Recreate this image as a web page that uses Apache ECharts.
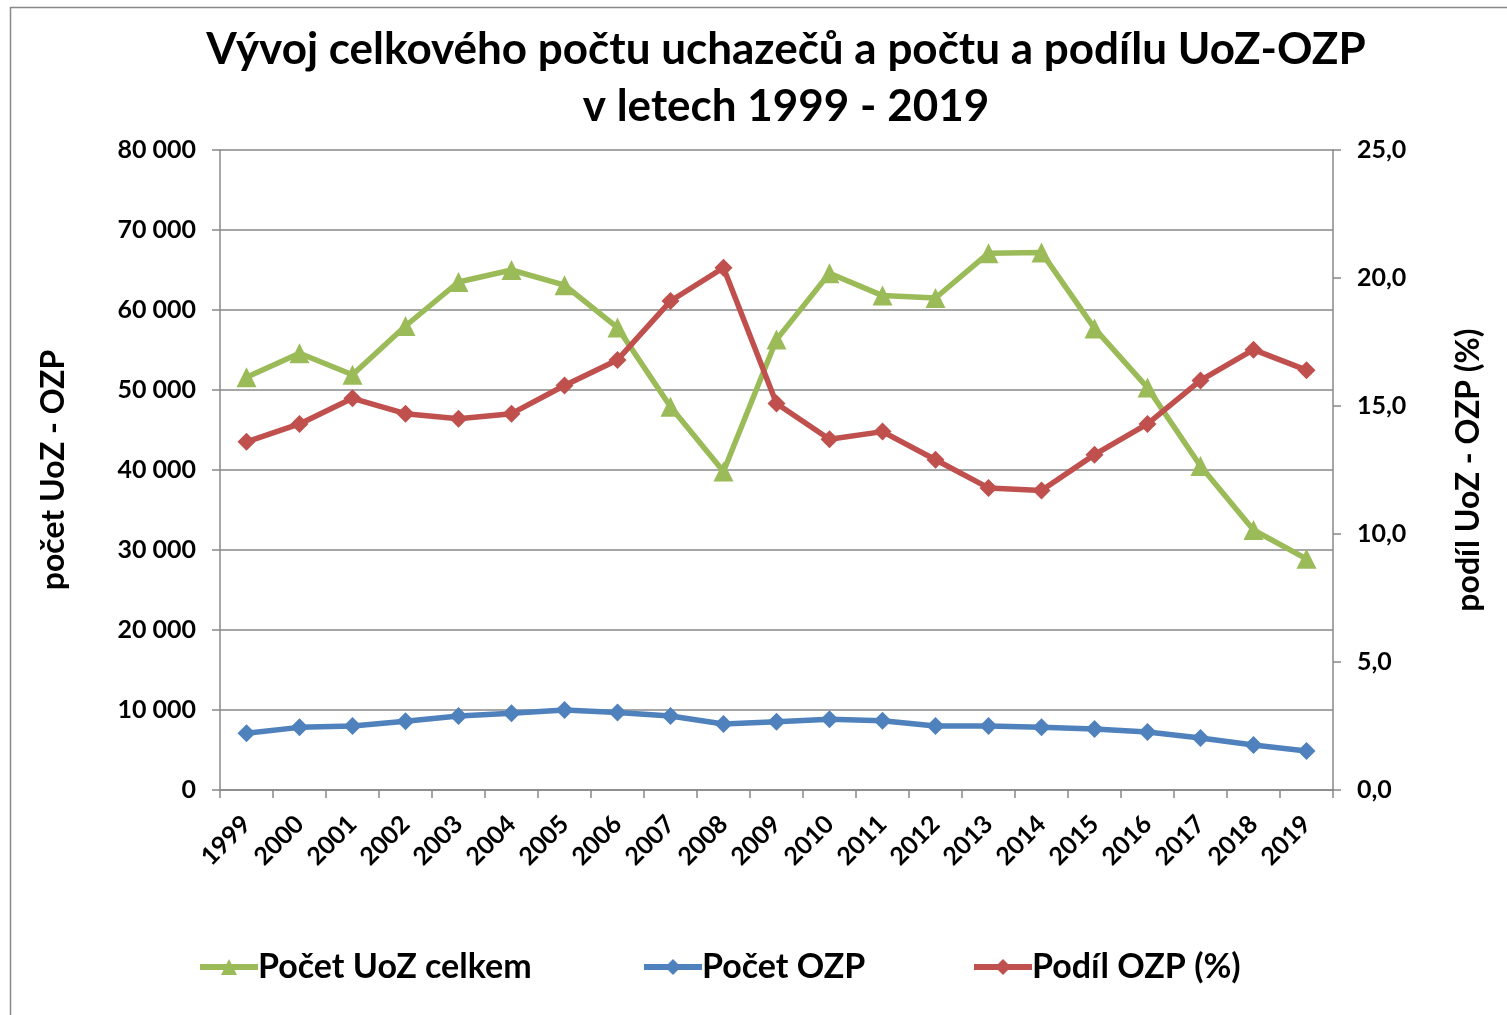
<!DOCTYPE html>
<html>
<head>
<meta charset="utf-8">
<script src="https://cdn.jsdelivr.net/npm/echarts@6/dist/echarts.min.js"></script>
<style>
  html, body { margin: 0; padding: 0; background: #fff; }
  #chart { width: 1507px; height: 1015px; }
</style>
</head>
<body>
<div id="chart"></div>
<script>
// data
var years = ['1999', '2000', '2001', '2002', '2003', '2004', '2005', '2006', '2007', '2008', '2009',
	'2010', '2011', '2012', '2013', '2014', '2015', '2016', '2017', '2018', '2019'];
var pocetUozCelkem = [51600, 54600, 51900, 58000, 63500, 65000, 63100, 57800, 47900, 39800, 56300,
	64600, 61800, 61500, 67100, 67200, 57700, 50300, 40500, 32500, 28900];
var pocetOzp = [7100, 7830, 8000, 8600, 9250, 9580, 10000, 9700, 9250, 8250, 8540,
	8830, 8670, 8000, 8000, 7830, 7630, 7250, 6500, 5630, 4880];
var podilOzp = [13.6, 14.3, 15.3, 14.7, 14.5, 14.7, 15.8, 16.8, 19.1, 20.4, 15.1,
	13.7, 14.0, 12.9, 11.8, 11.7, 13.1, 14.3, 16.0, 17.2, 16.4];
var seriesNames = ['Počet UoZ celkem', 'Počet OZP', 'Podíl OZP (%)'];

var FONT = 'Lato, "Open Sans", sans-serif';
var GREEN = '#9BBB59', BLUE = '#4F81BD', RED = '#C0504D';

var chart = echarts.init(document.getElementById('chart'));

function thousands(v) {
	return String(v).replace(/\B(?=(\d{3})+(?!\d))/g, ' ');
}

// one legend per item, so each can sit where the original has it
function legendAt(name, left) {
	return {
		left: left,
		top: 945,
		itemWidth: 58,
		itemHeight: 20,
		lineStyle: { width: 6 },
		textStyle: { fontFamily: FONT, fontSize: 34, fontWeight: 'bold', color: '#000', padding: [0, 0, 0, -5] },
		data: [name]
	};
}

chart.setOption({
	animation: false,
	textStyle: { fontFamily: FONT },
	title: {
		text: 'Vývoj celkového počtu uchazečů a počtu a podílu UoZ-OZP\nv letech 1999 - 2019',
		left: 781,
		textAlign: 'center',
		top: 16,
		textStyle: {
			fontFamily: FONT,
			fontSize: 44,
			fontWeight: 'bold',
			color: '#000',
			lineHeight: 57
		}
	},
	graphic: [{
		type: 'rect',
		shape: { x: 10.5, y: 7.5, width: 1510, height: 1020 },
		style: { fill: 'none', stroke: '#888', lineWidth: 1.5 },
		silent: true
	}],
	legend: [
		legendAt(seriesNames[0], 192),
		legendAt(seriesNames[1], 636),
		legendAt(seriesNames[2], 966)
	],
	grid: {
		left: 220,
		right: 174,
		top: 150,
		bottom: 225
	},
	xAxis: {
		type: 'category',
		data: years,
		boundaryGap: true,
		axisLine: { lineStyle: { color: '#888', width: 1.5 } },
		axisTick: { show: true, inside: false, length: 8, interval: 0, lineStyle: { color: '#888', width: 1.5 } },
		axisLabel: {
			rotate: 45,
			interval: 0,
			margin: 30,
			fontFamily: FONT,
			fontSize: 25,
			fontWeight: 'bold',
			color: '#000'
		}
	},
	yAxis: [{
		type: 'value',
		min: 0,
		max: 80000,
		interval: 10000,
		name: 'počet UoZ - OZP',
		nameLocation: 'middle',
		nameRotate: 90,
		nameGap: 150,
		nameTextStyle: { fontFamily: FONT, fontSize: 32, fontWeight: 'bold', color: '#000' },
		axisLine: { show: true, lineStyle: { color: '#888', width: 1.5 } },
		axisTick: { show: true, length: 8, lineStyle: { color: '#888', width: 1.5 } },
		splitLine: { show: true, lineStyle: { color: '#888', width: 1.5 } },
		axisLabel: {
			margin: 24,
			fontFamily: FONT,
			fontSize: 25,
			fontWeight: 'bold',
			color: '#000',
			formatter: thousands
		}
	}, {
		type: 'value',
		min: 0,
		max: 25,
		interval: 5,
		position: 'right',
		name: 'podíl UoZ - OZP (%)',
		nameLocation: 'middle',
		nameRotate: 90,
		nameGap: 120,
		nameTextStyle: { fontFamily: FONT, fontSize: 32, fontWeight: 'bold', color: '#000' },
		axisLine: { show: true, lineStyle: { color: '#888', width: 1.5 } },
		axisTick: { show: true, length: 8, lineStyle: { color: '#888', width: 1.5 } },
		splitLine: { show: false },
		axisLabel: {
			margin: 24,
			fontFamily: FONT,
			fontSize: 25,
			fontWeight: 'bold',
			color: '#000',
			formatter: function (v) { return v.toFixed(1).replace('.', ','); }
		}
	}],
	series: [{
		name: seriesNames[0],
		type: 'line',
		yAxisIndex: 0,
		data: pocetUozCelkem,
		symbol: 'triangle',
		symbolSize: 20,
		lineStyle: { color: GREEN, width: 5.5 },
		itemStyle: { color: GREEN },
		z: 3
	}, {
		name: seriesNames[1],
		type: 'line',
		yAxisIndex: 0,
		data: pocetOzp,
		symbol: 'diamond',
		symbolSize: 18,
		lineStyle: { color: BLUE, width: 5.5 },
		itemStyle: { color: BLUE },
		z: 3
	}, {
		name: seriesNames[2],
		type: 'line',
		yAxisIndex: 1,
		data: podilOzp,
		symbol: 'diamond',
		symbolSize: 18,
		lineStyle: { color: RED, width: 5.5 },
		itemStyle: { color: RED },
		z: 4
	}]
});
</script>
</body>
</html>
